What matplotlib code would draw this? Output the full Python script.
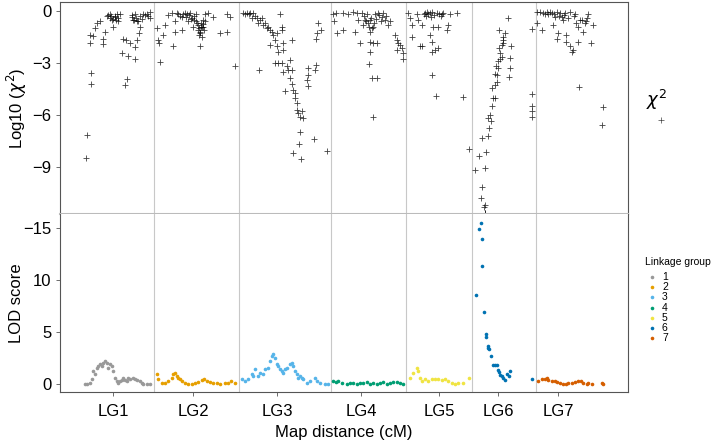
"""Segregation distortion (chi-square) and LOD score along the linkage map."""
import matplotlib
matplotlib.use("Agg")
import matplotlib.pyplot as plt
from matplotlib.lines import Line2D
import numpy as np

plt.rcParams["font.family"] = ["Liberation Sans", "DejaVu Sans"]
plt.rcParams["axes.unicode_minus"] = True

# map layout (cumulative map distance, cM)
lg_names = ["LG1", "LG2", "LG3", "LG4", "LG5", "LG6", "LG7"]
lg_centers = [53, 133, 217, 301, 379, 438, 498]
lg_bounds = [94, 178.5, 271, 346, 412, 475.5]
map_end = 568

# log10 chi-square per marker
chi1_pos = [26, 27, 31, 31, 30, 30, 33, 35, 37, 40, 43, 43, 45, 47, 50, 52, 53, 55, 57, 58,
            60, 62, 65, 67, 68, 63, 66, 70, 72, 73, 75, 75, 75, 77, 77, 80, 79, 83, 87, 90,
            90, 48, 50, 51, 53, 55, 56, 58, 72, 74, 76, 78, 80, 82, 85, 88]
chi1_val = [-8.5, -7.15, -3.6, -4.2, -1.85, -1.4, -1.45, -1.0, -0.7, -0.6, -1.6, -1.9, -1.2, -0.3,
            -0.2, -0.5, -0.9, -0.35, -0.15, -0.6, -0.2, -2.4, -4.3, -3.95, -2.6, -1.6, -1.7, -1.85,
            -0.25, -0.5, -0.2, -2.8, -2.1, -1.7, -0.6, -0.9, -1.3, -0.2, -0.2, -0.05, -0.4, -0.25,
            -0.4, -0.3, -0.45, -0.3, -0.5, -0.4, -0.35, -0.5, -0.4, -0.55, -0.3, -0.45, -0.25, -0.3]
chi2_pos = [97, 98, 99, 100, 103, 105, 108, 112, 113, 115, 115, 117, 122, 122, 125, 127, 128, 130,
            132, 133, 137, 138, 140, 140, 142, 143, 145, 148, 153, 160, 167, 167, 170, 175,
            138, 139, 140, 141, 142, 143, 144, 145, 139, 141, 143, 136, 134,
            118, 120, 123, 126, 129, 131, 134, 136]
chi2_val = [-1.0, -1.7, -1.85, -2.95, -1.4, -0.8, -0.25, -0.1, -2.0, -1.2, -0.6, -0.1, -1.1, -0.35,
            -0.1, -0.2, -0.6, -0.1, -0.4, -0.9, -0.7, -1.1, -1.3, -2.0, -0.9, -0.5, -0.2, -0.1,
            -0.35, -1.3, -1.2, -0.2, -0.35, -3.2,
            -0.8, -1.0, -1.2, -0.7, -1.5, -0.9, -1.1, -0.6, -1.4, -0.95, -0.75, -0.6, -0.5,
            -0.15, -0.3, -0.2, -0.35, -0.25, -0.45, -0.3, -0.2]
chi3_pos = [183, 187, 190, 193, 192, 197, 198, 202, 203, 205, 207, 208, 210, 212, 210, 213, 215,
            217, 217, 218, 215, 218, 220, 222, 222, 223, 223, 222, 223, 225, 227, 228, 230, 232,
            232, 230, 232, 233, 235, 235, 237, 237, 238, 240, 242, 243, 240, 239, 233, 241, 247,
            248, 248, 248, 255, 256, 254, 256, 257, 258, 261, 267, 199, 185, 189, 195, 200]
chi3_val = [-0.1, -0.1, -0.1, -0.1, -0.4, -0.4, -0.7, -0.4, -0.8, -0.7, -1.0, -0.9, -1.1, -1.2,
            -1.95, -1.4, -1.7, -1.3, -2.05, -2.35, -3.0, -3.0, -0.2, -0.9, -1.1, -1.85, -2.25,
            -3.0, -3.5, -4.65, -3.2, -3.4, -2.85, -1.7, -3.4, -3.9, -4.2, -4.55, -4.75, -5.0,
            -5.3, -5.7, -5.9, -6.1, -5.8, -6.2, -7.0, -7.7, -8.2, -8.55, -4.0, -3.7, -3.3, -4.35,
            -3.4, -3.1, -7.4, -1.6, -1.25, -0.7, -1.1, -8.1, -3.4, -0.2, -0.15, -0.3, -0.5]
chi4_pos = [273, 274, 276, 277, 283, 283, 288, 293, 295, 297, 298, 300, 302, 303, 305, 307, 308,
            310, 310, 310, 310, 309, 312, 313, 317, 313, 317, 313, 315, 318, 322, 323, 325, 328,
            330, 335, 337, 337, 338, 340, 342, 343, 343,
            304, 306, 309, 311, 312, 314, 316, 319, 321, 326]
chi4_val = [-0.2, -0.6, -0.1, -1.25, -1.1, -0.1, -0.2, -0.05, -1.2, -0.1, -0.5, -1.85, -0.1, -0.8,
            -0.5, -0.2, -0.7, -0.5, -1.2, -1.8, -2.35, -3.05, -3.85, -6.1, -3.9, -1.85, -1.85,
            -0.9, -0.2, -0.1, -0.35, -0.1, -0.5, -0.8, -0.6, -1.4, -1.7, -2.25, -1.85, -1.95,
            -2.15, -2.4, -2.8,
            -0.3, -0.6, -0.9, -0.4, -1.0, -0.7, -0.45, -0.25, -0.6, -0.3]
chi5_pos = [348, 350, 352, 352, 357, 358, 360, 362, 362, 365, 367, 370, 372, 373, 370, 372, 372,
            375, 378, 372, 376, 378, 377, 382, 383, 387, 388, 390, 397, 403, 409,
            364, 366, 368, 371, 374, 379, 381]
chi5_val = [-0.1, -0.4, -1.5, -0.8, -0.2, -0.5, -2.05, -2.05, -0.8, -0.1, -0.05, -0.1, -0.05,
            -0.9, -1.4, -1.8, -2.35, -2.25, -2.15, -3.7, -4.9, -0.9, -0.1, -0.2, -0.1, -1.1, -0.8,
            -0.2, -0.1, -4.95, -7.95,
            -0.15, -0.3, -0.2, -0.35, -0.25, -0.15, -0.3]
chi6_pos = [415, 419, 422, 421, 424, 425, 425, 426, 422, 428, 429, 428, 430, 431, 432, 433, 435,
            432, 435, 437, 435, 437, 436, 438, 438, 440, 442, 440, 439, 442, 443, 443, 445, 443,
            439, 450, 450, 449, 451, 448, 472, 472, 472, 472, 472, 425, 425]
chi6_val = [-9.2, -8.4, -10.15, -10.8, -11.3, -11.65, -9.1, -8.15, -7.35, -7.25, -6.75, -6.2,
            -6.0, -6.35, -5.5, -5.0, -5.0, -4.45, -4.25, -4.1, -3.65, -3.7, -3.2, -3.3, -2.9,
            -2.8, -2.65, -2.4, -2.15, -1.95, -1.85, -1.5, -1.3, -1.7, -1.1, -2.7, -3.3, -3.8,
            -2.05, -0.4, -1.05, -4.8, -5.5, -5.8, -6.1, -11.2, -11.7]
chi7_pos = [477, 480, 483, 487, 490, 477, 482, 488, 492, 493, 495, 497, 498, 497, 500, 502, 503,
            505, 506, 506, 510, 512, 513, 510, 515, 516, 518, 518, 519, 520, 523, 525, 527, 528,
            531, 533, 543, 542, 485, 494, 499, 504, 508, 514, 522, 526]
chi7_val = [-0.05, -0.05, -0.1, -0.05, -0.05, -0.7, -1.1, -0.2, -0.1, -0.8, -0.35, -0.05, -1.3,
            -1.6, -0.1, -0.35, -0.5, -0.1, -1.4, -1.8, -2.05, -2.35, -2.25, -0.05, -0.2, -0.7,
            -0.9, -1.8, -4.4, -0.5, -1.2, -0.7, -0.4, -0.2, -1.85, -0.8, -5.55, -6.6,
            -0.2, -0.15, -0.3, -0.25, -0.4, -0.3, -0.5, -0.6]

# LOD score per marker
lod1_pos = [25, 27, 30, 32, 33, 35, 37, 38, 40, 42, 43, 45, 47, 48, 50, 52, 53, 55, 57, 58,
            60, 62, 63, 65, 67, 68, 70, 73, 75, 77, 80, 82, 83, 87, 90]
lod1_val = [0.0, 0.0, 0.1, 0.5, 1.25, 1.0, 1.55, 1.7, 1.9, 1.7, 2.0, 2.2, 2.0, 1.55, 1.9, 1.7,
            1.25, 0.6, 0.3, 0.1, 0.3, 0.4, 0.6, 0.4, 0.3, 0.6, 0.5, 0.6, 0.5, 0.4, 0.3, 0.1,
            0.0, 0.0, 0.0]
lod2_pos = [97, 98, 102, 105, 108, 112, 113, 115, 117, 118, 120, 122, 125, 128, 132, 135, 138,
            142, 144, 147, 150, 153, 157, 160, 165, 168, 171, 175]
lod2_val = [0.95, 0.5, 0.1, 0.1, 0.3, 0.6, 0.95, 1.05, 0.8, 0.6, 0.5, 0.3, 0.1, 0.0, 0.0, 0.1,
            0.2, 0.4, 0.5, 0.3, 0.2, 0.1, 0.1, 0.0, 0.1, 0.1, 0.3, 0.1]
lod3_pos = [182, 185, 188, 192, 193, 195, 198, 200, 203, 205, 208, 210, 212, 213, 215, 217, 218,
            220, 222, 223, 225, 227, 230, 232, 233, 235, 237, 238, 240, 242, 243, 247, 250, 255,
            257, 260, 265, 268]
lod3_val = [0.5, 0.3, 0.5, 0.95, 0.8, 1.4, 0.8, 1.05, 0.95, 1.45, 1.55, 2.2, 2.7, 2.85, 2.5,
            1.9, 1.7, 1.45, 1.25, 1.1, 1.45, 1.55, 1.9, 2.0, 1.7, 1.25, 0.95, 0.6, 0.75, 0.6,
            0.5, 0.1, 0.3, 0.6, 0.3, 0.1, 0.0, 0.0]
lod4_pos = [273, 276, 278, 282, 287, 290, 293, 297, 300, 303, 307, 310, 313, 317, 320, 323, 327,
            330, 333, 337, 340, 343]
lod4_val = [0.3, 0.15, 0.3, 0.1, 0.0, 0.1, 0.05, 0.0, 0.05, 0.1, 0.15, 0.0, 0.1, 0.0, 0.05,
            0.15, 0.0, 0.1, 0.15, 0.2, 0.1, 0.0]
lod5_pos = [350, 353, 357, 358, 360, 362, 365, 368, 372, 375, 378, 382, 385, 388, 392, 395, 398,
            403, 409]
lod5_val = [0.6, 1.05, 1.55, 1.25, 0.6, 0.3, 0.5, 0.3, 0.5, 0.5, 0.5, 0.4, 0.5, 0.3, 0.1, 0.0,
            0.1, 0.1, 0.6]
lod6_pos = [416, 419, 421, 422, 422, 424, 426, 426, 428, 428, 429, 431, 433, 435, 437, 438, 439,
            440, 442, 443, 445, 447, 449, 450, 472]
lod6_val = [8.55, 14.9, 15.5, 13.9, 11.35, 6.9, 4.8, 4.5, 3.65, 3.45, 3.35, 2.7, 1.8, 1.8, 1.8,
            1.35, 1.15, 0.85, 0.75, 0.55, 0.4, 0.95, 0.75, 1.25, 0.45]
lod7_pos = [478, 482, 485, 487, 488, 492, 495, 497, 500, 503, 506, 508, 512, 515, 518, 521, 523,
            527, 528, 532, 542, 543]
lod7_val = [0.3, 0.5, 0.5, 0.6, 0.4, 0.3, 0.3, 0.2, 0.1, 0.0, 0.0, 0.1, 0.1, 0.2, 0.3, 0.3, 0.1,
            0.0, 0.1, 0.0, 0.1, 0.0]

LG_COLORS = ["#999999", "#E69F00", "#56B4E9", "#009E73", "#F0E442", "#0072B2", "#D55E00"]
FRAME = "#555555"
GRID = "#c8c8c8"

chi_sets = [(chi1_pos, chi1_val), (chi2_pos, chi2_val), (chi3_pos, chi3_val), (chi4_pos, chi4_val),
            (chi5_pos, chi5_val), (chi6_pos, chi6_val), (chi7_pos, chi7_val)]
lod_sets = [(lod1_pos, lod1_val), (lod2_pos, lod2_val), (lod3_pos, lod3_val), (lod4_pos, lod4_val),
            (lod5_pos, lod5_val), (lod6_pos, lod6_val), (lod7_pos, lod7_val)]

W, H = 712, 445
fig = plt.figure(figsize=(W / 100, H / 100), dpi=100)
ax_top = fig.add_axes([60 / W, 1 - 214 / H, 568 / W, 212 / H])
ax_bot = fig.add_axes([60 / W, 1 - 392 / H, 568 / W, 178 / H], sharex=ax_top)

for ax in (ax_top, ax_bot):
    for b in lg_bounds:
        ax.axvline(b, color=GRID, linewidth=0.8, zorder=0)
    for s in ax.spines.values():
        s.set_color(FRAME)
        s.set_linewidth(0.8)
    ax.tick_params(axis="y", length=3, width=0.6, color=FRAME, pad=3, labelsize=12)

# top panel: chi-square
for pos, val in chi_sets:
    ax_top.plot(np.array(pos), np.array(val), linestyle="none", marker="+", markersize=5,
                markeredgewidth=0.6, color="black", alpha=0.75)
ax_top.set_ylim(-11.73, 0.52)
ax_top.set_yticks([0, -3, -6, -9])
ax_top.tick_params(axis="x", bottom=False, labelbottom=False)
ax_top.spines["bottom"].set_color("#bbbbbb")
ax_top.spines["bottom"].set_linewidth(1.5)

# bottom panel: LOD
for (pos, val), col in zip(lod_sets, LG_COLORS):
    ax_bot.plot(np.array(pos), np.array(val), linestyle="none", marker="o", markersize=2.6,
                markeredgewidth=0, color=col)
ax_bot.set_ylim(-0.77, 16.35)
ax_bot.set_yticks([0, 5, 10, 15])
ax_bot.set_yticklabels(["0", "5", "10", "\u221215"])
ax_bot.spines["top"].set_visible(False)
ax_bot.set_xlim(0, map_end)
ax_bot.set_xticks(lg_centers)
ax_bot.set_xticklabels(lg_names)
ax_bot.tick_params(axis="x", length=3, width=0.6, color=FRAME, pad=6, labelsize=12)

fig.text(17 / W, 1 - 108 / H, r"Log10 ($\chi^2$)", rotation=90, ha="center", va="center", fontsize=12)
fig.text(17 / W, 1 - 303 / H, "LOD score", rotation=90, ha="center", va="center", fontsize=12)
fig.text(344 / W, 1 - 432 / H, "Map distance (cM)", ha="center", va="center", fontsize=12)

# legends
fig.text(657 / W, 1 - 100 / H, r"$\chi^2$", ha="center", va="center", fontsize=13)
fig.add_artist(Line2D([661 / W], [1 - 120 / H], transform=fig.transFigure, linestyle="none",
                      marker="+", markersize=4, markeredgewidth=0.5, color="black", alpha=0.75))
fig.text(645 / W, 1 - 262 / H, "Linkage group", ha="left", va="center", fontsize=7.5)
for i, col in enumerate(LG_COLORS):
    y = 1 - (277.3 + i * 10.07) / H
    fig.add_artist(Line2D([651.7 / W], [y], transform=fig.transFigure, linestyle="none",
                          marker="o", markersize=2.6, markeredgewidth=0, color=col))
    fig.text(662 / W, y, str(i + 1), ha="left", va="center", fontsize=7.5)

fig.savefig("out.png", dpi=100)
plt.close(fig)
